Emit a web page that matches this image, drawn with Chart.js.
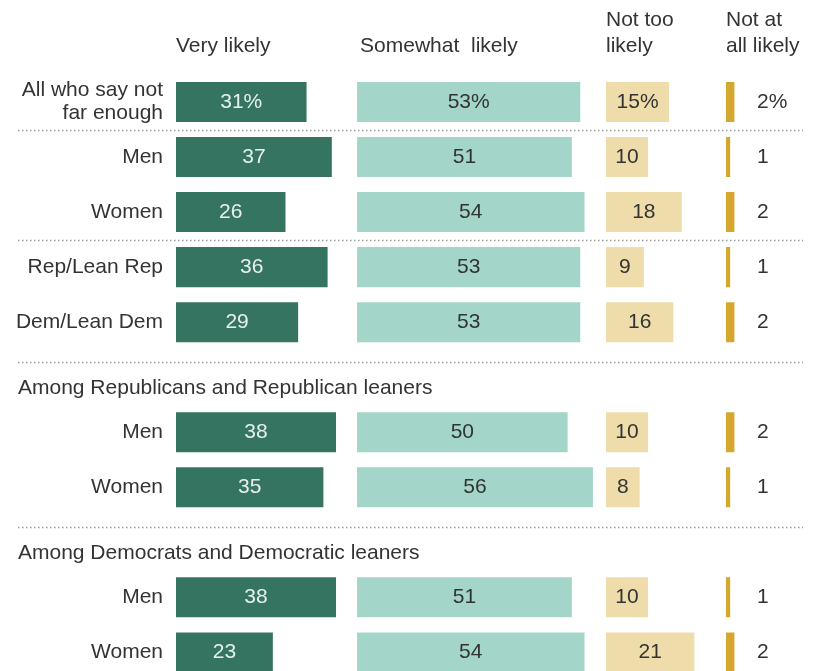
<!DOCTYPE html>
<html>
<head>
<meta charset="utf-8">
<script src="https://cdn.jsdelivr.net/npm/chart.js@4"></script>
<style>
  html, body { margin: 0; padding: 0; background: #fff; overflow: hidden; }
  #wrap { width: 814px; height: 671px; overflow: hidden; }
</style>
</head>
<body>
<div id="wrap"><canvas id="likelyChart" width="814" height="708"></canvas></div>
<script>
// rows, top to bottom ('' = group title row)
const rowLabels = [['All who say not', 'far enough'], 'Men', 'Women', 'Rep/Lean Rep', 'Dem/Lean Dem', '', 'Men', 'Women', '', 'Men', 'Women'];
const groupTitles = ['', '', '', '', '', 'Among Republicans and Republican leaners', '', '', 'Among Democrats and Democratic leaners', '', ''];
const columnNames = [['Very likely'], ['Somewhat  likely'], ['Not too', 'likely'], ['Not at', 'all likely']];

const veryLikely = [31, 37, 26, 36, 29, null, 38, 35, null, 38, 23];
const somewhatLikely = [53, 51, 54, 53, 53, null, 50, 56, null, 51, 54];
const notTooLikely = [15, 10, 18, 9, 16, null, 10, 8, null, 10, 21];
const notAtAllLikely = [2, 1, 2, 1, 2, null, 2, 1, null, 1, 2];

// where each column starts on the shared x axis
const columnStart = [0, 43, 102.1, 130.6];
const colors = ['#367462', '#a3d5c8', '#eedcaa', '#d4a72f'];
const FONT = 'Liberation Sans, Arial, sans-serif';

function floating(values, start) {
    return values.map(v => v == null ? null : [start, start + v]);
}

const series = [veryLikely, somewhatLikely, notTooLikely, notAtAllLikely];

const decorations = {
    id: 'decorations',
    afterDatasetsDraw(chart) {
        const ctx = chart.ctx;
        const x = chart.scales.x;
        const y = chart.scales.y;
        ctx.save();

        // column headers
        ctx.fillStyle = '#333';
        ctx.font = '21px ' + FONT;
        ctx.textBaseline = 'middle';
        ctx.textAlign = 'left';
        columnNames.forEach((lines, c) => {
            const left = x.getPixelForValue(columnStart[c]) + (c === 1 ? 3 : 0);
            const top = lines.length === 1 ? 46 : 20;
            lines.forEach((line, i) => ctx.fillText(line, left, top + i * 26));
        });

        // group titles
        groupTitles.forEach((t, i) => {
            if (t) ctx.fillText(t, 18, y.getPixelForValue(i) + 11);
        });

        // dotted separators
        ctx.strokeStyle = '#999';
        ctx.lineWidth = 1.5;
        ctx.setLineDash([1.5, 2.5]);
        [1, 3, 5, 8].forEach(i => {
            const yy = Math.round(y.getPixelForValue(i) - (groupTitles[i] ? 15 : 27.5)) + 0.5;
            ctx.beginPath();
            ctx.moveTo(18, yy);
            ctx.lineTo(803, yy);
            ctx.stroke();
        });
        ctx.setLineDash([]);

        // value labels
        ctx.font = '21px ' + FONT;
        series.forEach((values, d) => {
            const meta = chart.getDatasetMeta(d);
            meta.data.forEach((bar, i) => {
                const v = values[i];
                if (v == null) return;
                const txt = i === 0 ? v + '%' : String(v);
                if (d === 3) {
                    ctx.fillStyle = '#333';
                    ctx.textAlign = 'left';
                    ctx.fillText(txt, x.getPixelForValue(columnStart[3]) + 31, bar.y);
                } else {
                    ctx.fillStyle = d === 0 ? '#e6f0ec' : '#333';
                    ctx.textAlign = 'center';
                    ctx.fillText(txt, (bar.x + bar.base) / 2, bar.y);
                }
            });
        });
        ctx.restore();
    }
};

new Chart(document.getElementById('likelyChart').getContext('2d'), {
    type: 'bar',
    data: {
        labels: rowLabels,
        datasets: series.map((values, d) => ({
            label: columnNames[d].join(' '),
            data: floating(values, columnStart[d]),
            backgroundColor: colors[d]
        }))
    },
    options: {
        responsive: false,
        animation: false,
        indexAxis: 'y',
        layout: { padding: { top: 74.5, bottom: 0, left: 0, right: 0 } },
        datasets: {
            bar: { grouped: false, barPercentage: 1, categoryPercentage: 0.727, borderWidth: 0 }
        },
        scales: {
            x: { display: false, min: 0, max: 151.5 },
            y: {
                grid: { display: false },
                border: { display: false },
                ticks: { padding: 5, color: '#333', font: { family: FONT, size: 21, lineHeight: 1.1 } },
                afterFit: s => { s.width = 176; }
            }
        },
        plugins: {
            legend: { display: false },
            tooltip: { enabled: false }
        }
    },
    plugins: [decorations]
});
</script>
</body>
</html>
